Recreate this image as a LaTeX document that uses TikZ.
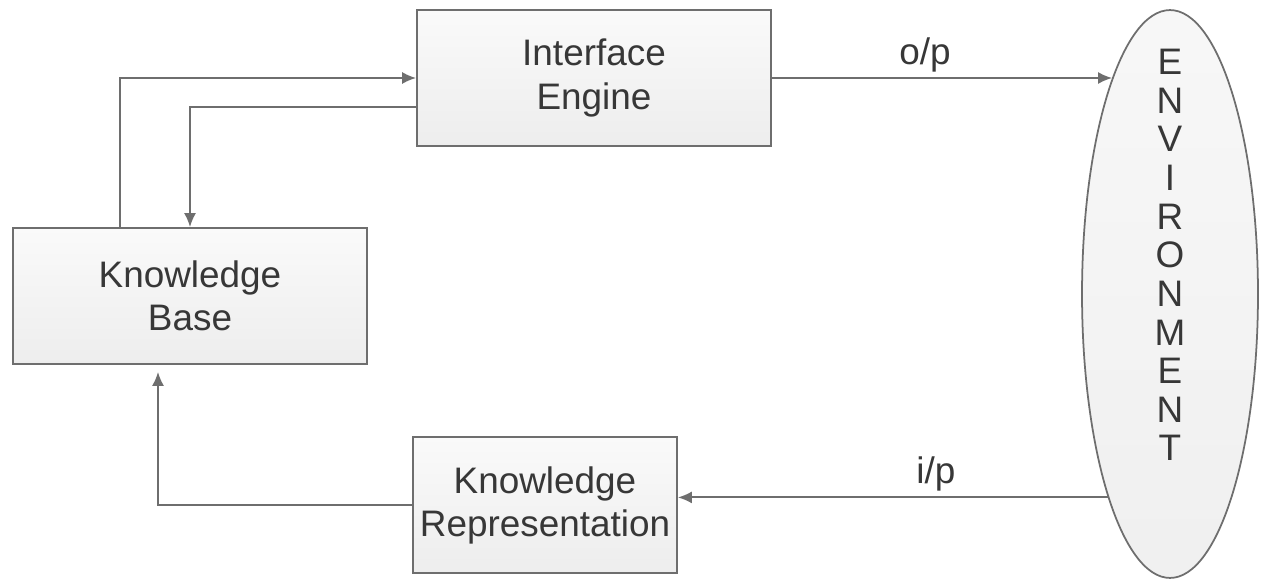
\documentclass[tikz,border=0pt]{standalone}
\usepackage{fontspec}
\setmainfont{Liberation Sans}
\usetikzlibrary{shapes.geometric,arrows.meta,positioning}
\definecolor{linegray}{RGB}{110,110,110}
\definecolor{textgray}{RGB}{55,55,55}

\begin{document}
\begin{tikzpicture}[x=0.02cm, y=-0.02cm,
    % Define styles for the blocks and connectors
    block/.style={draw=linegray, line width=1pt, top color=white!98!black, bottom color=black!7, minimum height=2.72cm, align=center, text=textgray, font=\fontsize{21}{24.5}\selectfont},
    envshape/.style={draw=linegray, line width=1pt, ellipse, inner sep=0pt, minimum width=3.52cm, minimum height=11.36cm, top color=white!97!black, bottom color=black!6},
    arrow/.style={-{Latex[length=0.28cm, width=0.24cm]}, draw=linegray, line width=1.1pt},
    flowlabel/.style={font=\fontsize{21}{24.5}\selectfont, text=textgray, inner sep=3pt}
]

% Fix the page to the reference size
\useasboundingbox (0,0) rectangle (1261,581);

% Blocks
\node[block, minimum width=7.08cm] (ie) at (594,78) {Interface\\Engine};
\node[block, minimum width=7.08cm] (kb) at (190,296) {Knowledge\\Base};
\node[block, minimum width=5.28cm] (kr) at (545,505) {Knowledge\\Representation};

% Environment ellipse with its letters stacked
\node[envshape] (env) at (1170,294) {};
\node[font=\fontsize{21}{22}\selectfont, text=textgray, align=center] (envtext) at (1170,255) {E\\N\\V\\I\\R\\O\\N\\M\\E\\N\\T};

% Knowledge base <-> interface engine
\draw[arrow] ([xshift=-1.4cm]kb.north) |- (ie.west);
\draw[arrow] ([yshift=-0.58cm]ie.west) -| (kb.north);

% Output to the environment
\draw[arrow] (ie.east) -- (ie.east -| env.105) node[flowlabel, pos=0.45, above] (op) {o/p};

% Input from the environment
\draw[arrow] (env.253) -- (env.253 -| kr.east) node[flowlabel, pos=0.4, above] (ip) {i/p};

% Representation back to the knowledge base
\draw[arrow, shorten >=0.14cm] (kr.west) -| ([xshift=-0.64cm]kb.south);

\end{tikzpicture}
\end{document}
